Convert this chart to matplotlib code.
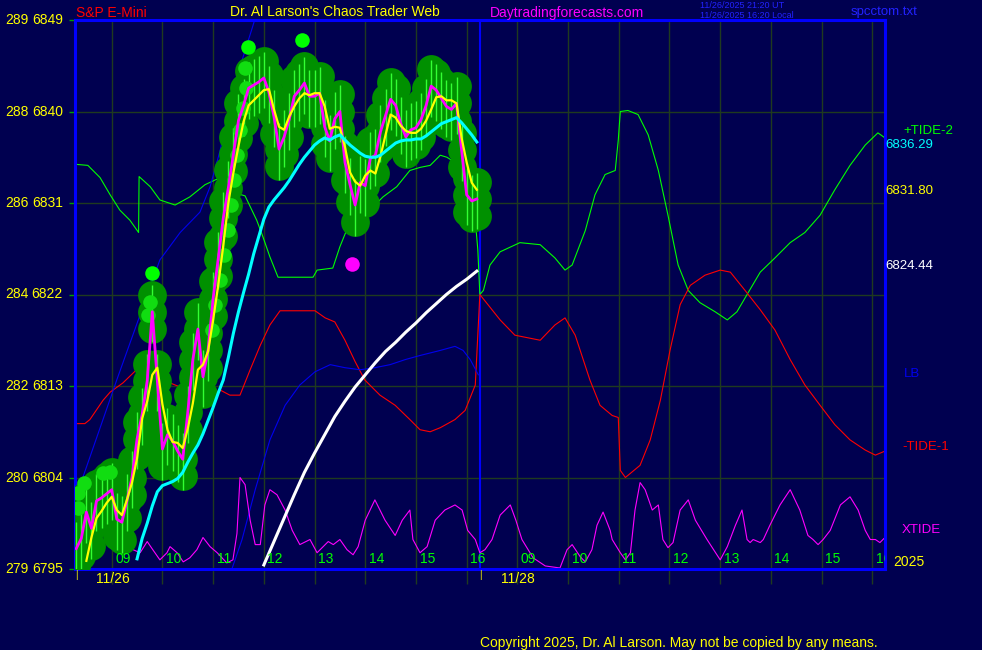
import numpy as np
import matplotlib.pyplot as plt

plt.rcParams['font.family'] = ['Liberation Sans', 'DejaVu Sans']

NAVY = '#000050'
GRID = '#1f3a1f'
BLUE = '#0000ff'
YEL = '#ffff00'
LIME = '#00ff00'

# ---- data (x = clock hour of day 1, day 2 continues at 17 = 09:00) ----
y_ticks = [6795, 6804, 6813, 6822, 6831, 6840, 6849]
y_alt = [279, 280, 282, 284, 286, 288, 289]
hour_ticks = list(range(9, 25))
hour_labels = ['09', '10', '11', '12', '13', '14', '15', '16'] * 2
day_break = 16.26

t_price = np.linspace(8.3, 16.2, 80)
price = [6797.0, 6798.0, 6800.6, 6799.0, 6801.7, 6802.0, 6802.4, 6802.8, 6799.9, 6799.6,
         6801.7, 6804.0, 6807.8, 6810.2, 6813.5, 6820.3, 6813.5, 6806.8, 6808.2, 6807.6,
         6806.6, 6805.8, 6810.4, 6815.6, 6818.6, 6813.9, 6816.5, 6821.6, 6825.5, 6829.5,
         6832.5, 6835.8, 6839.1, 6840.6, 6842.3, 6842.6, 6842.9, 6843.3, 6841.9, 6839.5,
         6836.3, 6837.5, 6839.2, 6841.5, 6842.1, 6842.8, 6841.5, 6841.5, 6841.8, 6838.5,
         6837.1, 6839.3, 6840.0, 6835.0, 6832.8, 6830.8, 6833.0, 6832.7, 6835.4, 6835.7,
         6838.0, 6839.6, 6841.2, 6840.6, 6838.8, 6837.5, 6838.2, 6838.4, 6839.2, 6840.6,
         6842.5, 6842.1, 6841.3, 6840.5, 6840.2, 6840.8, 6836.2, 6831.8, 6831.2, 6831.4]

t_fast = np.linspace(8.5, 16.2, 78)
fast_avg = [6795.8, 6798.1, 6800.0, 6800.7, 6801.5, 6802.1, 6800.8, 6800.3, 6801.8, 6803.5,
            6805.9, 6809.8, 6811.5, 6814.1, 6814.8, 6811.2, 6808.7, 6807.5, 6807.4, 6806.9,
            6808.8, 6811.3, 6814.6, 6815.1, 6816.4, 6819.5, 6822.9, 6826.8, 6831.0, 6834.0,
            6836.6, 6839.0, 6840.6, 6841.1, 6841.6, 6842.1, 6842.2, 6840.2, 6838.5, 6838.2,
            6839.5, 6840.5, 6841.3, 6841.8, 6841.6, 6841.8, 6841.8, 6840.5, 6838.3, 6838.5,
            6838.4, 6836.5, 6834.0, 6833.1, 6832.7, 6833.7, 6834.2, 6833.9, 6835.6, 6837.7,
            6839.7, 6839.4, 6838.6, 6838.1, 6837.9, 6837.9, 6838.3, 6839.1, 6840.2, 6841.4,
            6841.5, 6841.1, 6841.1, 6840.8, 6837.4, 6835.0, 6833.0, 6832.3]

t_mid = np.linspace(9.5, 16.2, 68)
mid_avg = [6796.0, 6798.0, 6799.5, 6801.2, 6802.6, 6803.2, 6803.4, 6803.6, 6803.9, 6804.5,
           6805.5, 6806.4, 6807.2, 6808.3, 6809.6, 6810.9, 6812.3, 6813.6, 6815.8, 6818.2,
           6820.3, 6822.2, 6824.0, 6826.0, 6827.7, 6829.4, 6830.6, 6831.3, 6831.9, 6832.5,
           6833.2, 6834.0, 6834.8, 6835.5, 6836.1, 6836.7, 6837.1, 6837.4, 6837.2, 6837.5,
           6837.7, 6837.2, 6836.7, 6836.3, 6835.9, 6835.6, 6835.5, 6835.5, 6835.7, 6836.1,
           6836.5, 6836.9, 6837.1, 6837.2, 6837.2, 6837.3, 6837.3, 6837.6, 6838.0, 6838.4,
           6838.8, 6839.0, 6839.2, 6839.4, 6838.9, 6838.3, 6837.7, 6837.0]

t_slow = np.linspace(12.0, 16.2, 22)
slow_avg = [6795.4, 6797.7, 6800.0, 6802.3, 6804.5, 6806.4, 6808.2, 6810.0, 6811.5, 6812.9,
            6814.1, 6815.3, 6816.4, 6817.3, 6818.3, 6819.2, 6820.2, 6821.1, 6822.0, 6822.8,
            6823.5, 6824.3]

tide2_t = [8.30, 8.53, 8.77, 8.97, 9.16, 9.36, 9.53, 9.54, 9.76, 9.95, 10.25, 10.54, 10.84,
           11.14, 11.43, 11.63, 11.86, 11.98, 12.12, 12.28, 12.97, 13.05, 13.36, 13.50, 13.63,
           13.83, 14.09, 14.35, 14.62, 14.88, 15.08, 15.28, 15.48, 15.61, 15.80, 15.93, 16.13,
           16.22, 16.26, 16.33, 16.46, 16.66, 17.05, 17.45, 17.74, 17.94, 18.08, 18.34, 18.53,
           18.73, 18.93, 18.99, 19.03, 19.18, 19.38, 19.58, 19.78, 19.97, 20.17, 20.37, 20.60,
           20.90, 21.14, 21.33, 21.53, 21.79, 22.08, 22.38, 22.67, 22.97, 23.26, 23.56, 23.86,
           24.11, 24.25]
tide2 = [6834.8, 6834.7, 6833.5, 6831.8, 6830.3, 6829.3, 6828.1, 6833.6, 6832.6, 6831.3,
         6830.8, 6831.6, 6832.8, 6833.5, 6832.0, 6831.7, 6829.3, 6827.7, 6825.7, 6823.7,
         6823.7, 6824.4, 6824.6, 6826.7, 6828.3, 6829.3, 6830.3, 6831.6, 6832.6, 6834.2,
         6834.5, 6834.7, 6835.7, 6835.5, 6834.9, 6833.3, 6831.6, 6826.4, 6822.0, 6822.4,
         6824.9, 6826.2, 6827.1, 6826.9, 6825.6, 6824.4, 6824.9, 6828.3, 6831.8, 6833.8,
         6834.2, 6837.2, 6840.0, 6840.1, 6839.7, 6837.7, 6834.2, 6829.8, 6824.9, 6822.4,
         6821.2, 6820.3, 6819.5, 6820.3, 6822.0, 6824.2, 6825.6, 6827.1, 6828.1, 6829.8,
         6832.3, 6834.7, 6836.7, 6837.9, 6837.4]

tide1_t = [8.32, 8.47, 8.57, 8.83, 8.97, 9.22, 9.49, 9.53, 9.54, 9.59, 9.81, 10.01, 10.15,
           10.35, 10.54, 10.74, 10.94, 11.14, 11.33, 11.53, 11.73, 11.93, 12.12, 12.32, 13.01,
           13.21, 13.40, 13.60, 13.80, 13.99, 14.29, 14.59, 14.88, 15.08, 15.28, 15.48, 15.77,
           15.97, 16.17, 16.26, 16.66, 16.95, 17.45, 17.74, 17.94, 18.14, 18.43, 18.63, 18.87,
           18.99, 19.03, 19.13, 19.42, 19.62, 19.82, 20.01, 20.21, 20.41, 20.70, 21.00, 21.20,
           21.49, 21.79, 22.08, 22.38, 22.67, 22.97, 23.26, 23.56, 23.86, 24.06, 24.25]
tide1 = [6809.3, 6809.3, 6809.7, 6811.6, 6812.4, 6813.3, 6814.6, 6815.9, 6810.0, 6810.9,
         6811.9, 6812.8, 6813.3, 6812.9, 6811.9, 6811.4, 6811.9, 6812.6, 6812.1, 6812.1,
         6814.6, 6817.0, 6819.0, 6820.4, 6820.4, 6819.7, 6819.3, 6817.5, 6815.4, 6813.6,
         6812.1, 6811.1, 6809.7, 6808.7, 6808.5, 6808.9, 6809.7, 6810.6, 6813.1, 6822.0,
         6819.5, 6818.0, 6817.5, 6819.0, 6819.7, 6818.0, 6813.6, 6811.1, 6810.1, 6809.9,
         6804.7, 6804.0, 6805.2, 6807.7, 6811.6, 6816.5, 6821.0, 6822.9, 6823.9, 6824.4,
         6824.2, 6822.4, 6820.5, 6818.5, 6815.6, 6813.1, 6811.1, 6809.2, 6807.7, 6806.7,
         6806.2, 6806.6]

lb1_t = [8.38, 8.43, 9.10, 9.56, 9.95, 10.35, 10.74, 10.94, 11.14, 11.39, 11.63, 11.77, 11.85]
lb1 = [6802.8, 6804.0, 6813.6, 6820.0, 6825.4, 6828.1, 6830.1, 6832.6, 6836.2, 6842.1,
       6846.0, 6848.2, 6849.5]
lb2_t = [11.37, 11.57, 11.83, 12.12, 12.42, 12.71, 13.01, 13.31, 13.60, 13.90, 14.19, 14.49,
         14.79, 15.08, 15.48, 15.77, 15.93, 16.07, 16.23]
lb2 = [6795.0, 6797.9, 6802.8, 6807.7, 6811.1, 6813.1, 6814.4, 6815.1, 6814.8, 6814.6,
       6814.8, 6815.1, 6815.6, 6816.0, 6816.5, 6816.9, 6816.5, 6815.6, 6814.1]

xtide_t = [8.30, 8.37, 8.43, 8.57, 8.77, 8.97, 9.16, 9.30, 9.42, 9.56, 9.70, 9.81, 9.95,
           10.09, 10.15, 10.29, 10.41, 10.54, 10.68, 10.80, 10.94, 11.08, 11.27, 11.39, 11.47,
           11.53, 11.63, 11.73, 11.83, 11.93, 12.02, 12.12, 12.26, 12.42, 12.56, 12.71, 12.91,
           13.05, 13.17, 13.27, 13.37, 13.50, 13.64, 13.76, 13.86, 14.00, 14.19, 14.39, 14.59,
           14.73, 14.88, 14.94, 15.08, 15.22, 15.38, 15.57, 15.77, 15.91, 16.02, 16.17, 16.26,
           16.36, 16.50, 16.66, 16.86, 16.97, 17.09, 17.31, 17.55, 17.84, 17.98, 18.08, 18.24,
           18.34, 18.47, 18.57, 18.69, 18.83, 18.87, 19.03, 19.13, 19.23, 19.32, 19.42, 19.52,
           19.66, 19.78, 19.87, 19.97, 20.07, 20.21, 20.37, 20.51, 20.74, 21.00, 21.14, 21.30,
           21.43, 21.53, 21.59, 21.65, 21.79, 21.85, 21.98, 22.18, 22.38, 22.57, 22.73, 22.83,
           22.93, 23.03, 23.17, 23.37, 23.56, 23.72, 23.86, 23.96, 24.06, 24.15, 24.25]
xtide = [6797.1, 6796.2, 6796.6, 6797.9, 6800.8, 6800.1, 6799.1, 6797.9, 6796.9, 6796.6,
         6797.7, 6796.9, 6795.9, 6796.6, 6797.2, 6796.6, 6795.7, 6796.1, 6796.9, 6798.1,
         6797.2, 6796.6, 6795.6, 6795.9, 6798.5, 6804.0, 6803.3, 6799.8, 6797.4, 6797.4,
         6801.3, 6802.8, 6802.3, 6800.8, 6798.8, 6797.4, 6797.9, 6796.6, 6797.2, 6797.7,
         6797.4, 6797.9, 6796.9, 6796.4, 6797.2, 6799.8, 6801.8, 6799.8, 6798.3, 6799.8,
         6800.8, 6797.9, 6796.6, 6797.2, 6799.8, 6800.8, 6801.3, 6800.8, 6798.8, 6797.9,
         6796.6, 6796.9, 6797.9, 6800.3, 6801.3, 6799.8, 6797.9, 6796.1, 6795.3, 6795.1,
         6796.9, 6797.4, 6796.2, 6795.7, 6796.9, 6799.3, 6800.6, 6798.8, 6797.9, 6796.6,
         6795.9, 6796.6, 6800.8, 6803.5, 6802.8, 6800.8, 6801.3, 6797.9, 6797.1, 6797.6,
         6800.8, 6801.8, 6799.8, 6797.9, 6795.9, 6797.2, 6799.3, 6800.8, 6797.9, 6797.6,
         6797.9, 6797.6, 6797.9, 6799.3, 6801.3, 6802.8, 6800.8, 6798.3, 6797.9, 6797.4,
         6797.9, 6798.8, 6801.3, 6802.1, 6800.8, 6798.8, 6797.9, 6797.9, 6797.6, 6798.1]

glow_t = [8.34, 8.34, 8.45, 8.83, 8.97, 9.72, 9.76, 10.98, 11.04, 11.14, 11.22, 11.29, 11.36,
          11.41, 11.47, 11.53, 11.59, 11.65, 11.63]
glow_p = [6801.0, 6802.5, 6803.5, 6804.4, 6804.5, 6820.0, 6821.3, 6818.5, 6821.0, 6823.4,
          6825.9, 6828.3, 6830.8, 6833.3, 6835.7, 6838.2, 6840.3, 6842.3, 6844.3]
top_t = [9.80, 11.69, 12.75]
top_p = [6824.1, 6846.3, 6847.0]
low_t = [13.74]
low_p = [6825.0]

last_values = [(6836.29, '6836.29', '#00ffff'), (6831.80, '6831.80', YEL),
               (6824.44, '6824.44', 'white')]

# ---- figure ----
fig = plt.figure(figsize=(9.82, 6.5), dpi=100, facecolor=NAVY)
ax = fig.add_axes([75 / 982, 1 - 569 / 650, 810 / 982, 549 / 650])
ax.set_facecolor(NAVY)
ax.set_xlim(8.276, 24.25)
ax.set_ylim(6795, 6849)

ax.set_xticks(hour_ticks)
ax.set_yticks(y_ticks)
ax.set_xticklabels([])
ax.set_yticklabels([])
ax.grid(True, color=GRID, lw=1)
ax.tick_params(axis='x', length=11, width=1, color=GRID, direction='out')
ax.tick_params(axis='y', length=4, width=1, color='#00a000', direction='out')
for s in ax.spines.values():
    s.set_color(BLUE)
    s.set_linewidth(2.2)
ax.axvline(day_break, color=BLUE, lw=1.5, zorder=2)

# indicator lines
ax.plot(tide2_t, tide2, color=LIME, lw=0.8, zorder=2)
ax.plot(tide1_t, tide1, color='#ff0000', lw=0.8, zorder=2)
ax.plot(lb1_t, lb1, color='#0000ee', lw=0.8, zorder=2)
ax.plot(lb2_t, lb2, color='#0000ee', lw=0.8, zorder=2)
ax.plot(xtide_t, xtide, color='#ff00ff', lw=0.8, zorder=2)

# price blobs
p = np.array(price)
for off in (-1.7, 0.0, 1.7):
    ax.scatter(t_price, p + off, s=430, color='#009000', lw=0, zorder=3)
ax.vlines(t_price, p - 3.0, p + 2.6, color='#33ff33', lw=1, zorder=4)
ax.scatter(glow_t, glow_p, s=110, color='#11dd11', lw=0, zorder=4)
ax.scatter(top_t, top_p, s=110, color=LIME, lw=0, zorder=6)
ax.scatter(low_t, low_p, s=110, color='#ff00ff', lw=0, zorder=6)

ax.plot(t_price, price, color='#ff00ff', lw=2, zorder=5)
ax.plot(t_fast, fast_avg, color=YEL, lw=1.6, zorder=6)
ax.plot(t_mid, mid_avg, color='#00ffff', lw=2.2, zorder=7)
ax.plot(t_slow, slow_avg, color='white', lw=2.2, zorder=7)

# hour labels inside the bottom edge (last one is cut by the frame)
for h, lbl in zip(hour_ticks, hour_labels):
    ax.text(h + 0.07, 6795.25, lbl, color=LIME, fontsize=10, ha='left', va='bottom',
            zorder=8, clip_on=True)

# left price labels
ytr = ax.get_yaxis_transform()
for v, a in zip(y_ticks, y_alt):
    ax.text(-70 / 810, v, str(a), color=YEL, fontsize=10, ha='left', va='center',
            transform=ytr, clip_on=False)
    ax.text(-12 / 810, v, str(v), color=YEL, fontsize=10, ha='right', va='center',
            transform=ytr, clip_on=False)

# right labels
for v, s, c in last_values:
    ax.text(1.0, v + 0.4, s, color=c, fontsize=9.5, ha='left', va='center',
            transform=ytr, clip_on=False)
fig.text(903 / 982, 1 - 131 / 650, '+TIDE-2', color=LIME, fontsize=9.5, va='center')
fig.text(904 / 982, 1 - 374 / 650, 'LB', color='#0000ee', fontsize=9.5, va='center')
fig.text(902 / 982, 1 - 447 / 650, '-TIDE-1', color='#ff0000', fontsize=9.5, va='center')
fig.text(902 / 982, 1 - 530 / 650, 'XTIDE', color='#ff00ff', fontsize=9.5, va='center')
fig.text(893 / 982, 1 - 562 / 650, '2025', color=YEL, fontsize=10, va='center')

# dates under the axis
fig.text(113 / 982, 1 - 579 / 650, '11/26', color=YEL, fontsize=10, ha='center', va='center')
fig.text(518 / 982, 1 - 579 / 650, '11/28', color=YEL, fontsize=10, ha='center', va='center')
fig.text(76 / 982, 1 - 575 / 650, '|', color=YEL, fontsize=7, ha='center', va='center')
fig.text(480 / 982, 1 - 575 / 650, '|', color=YEL, fontsize=7, ha='center', va='center')

# header
fig.text(76 / 982, 1 - 13 / 650, 'S&P E-Mini', color='#ff0000', fontsize=10, va='center')
fig.text(230 / 982, 1 - 12 / 650, "Dr. Al Larson's Chaos Trader Web", color=YEL, fontsize=10,
         va='center')
fig.text(490 / 982, 1 - 13 / 650, 'Daytradingforecasts.com', color='#ff00ff', fontsize=10,
         va='center')
fig.text(700 / 982, 1 - 5 / 650, '11/26/2025 21:20 UT', color='#2222ff', fontsize=6.5,
         va='center')
fig.text(700 / 982, 1 - 15 / 650, '11/26/2025 16:20 Local', color='#2222ff', fontsize=6.5,
         va='center')
fig.text(851 / 982, 1 - 12 / 650, 'spcctom.txt', color='#2222ff', fontsize=9.5, va='center')

fig.text(480 / 982, 1 - 643 / 650, 'Copyright 2025, Dr. Al Larson. May not be copied by any means.',
         color=YEL, fontsize=10, va='center')

fig.savefig('out.png', dpi=100, facecolor=NAVY)
